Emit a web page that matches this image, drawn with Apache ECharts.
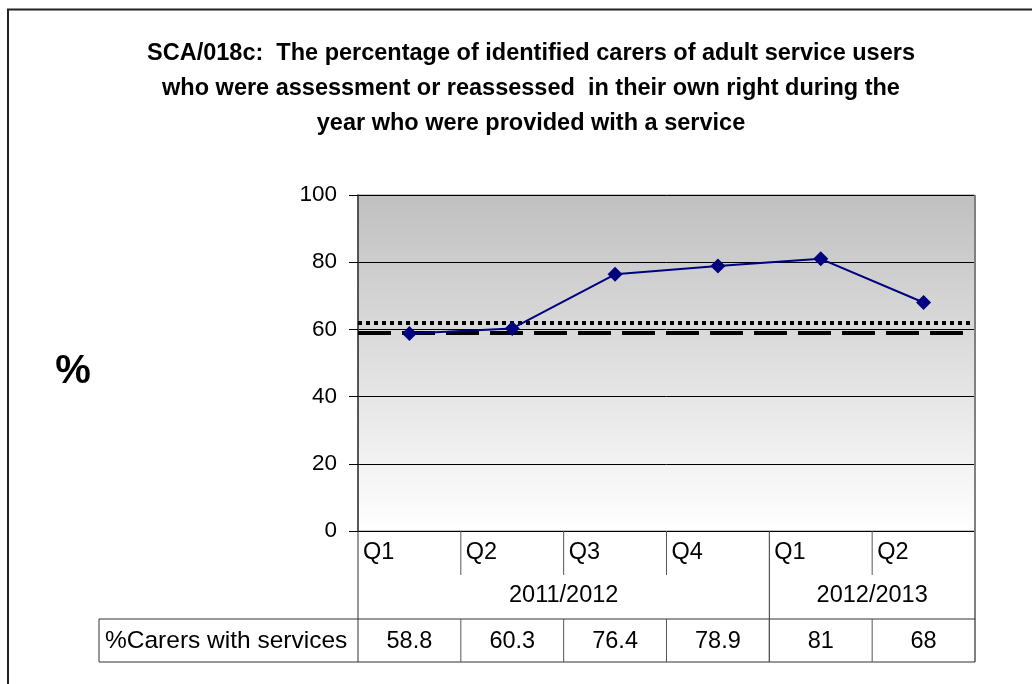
<!DOCTYPE html>
<html>
<head>
<meta charset="utf-8">
<script src="https://cdn.jsdelivr.net/npm/echarts@6/dist/echarts.min.js"></script>
<style>
html,body{margin:0;padding:0;background:#fff;}
#c{width:1032px;height:684px;}
</style>
</head>
<body>
<div id="c"></div>
<script>
// ---- data ----
const quarters = ['Q1', 'Q2', 'Q3', 'Q4', 'Q1', 'Q2'];
const years = ['2011/2012', '2012/2013'];
const yearSpans = [4, 2];
const seriesName = '%Carers with services';
const values = [58.8, 60.3, 76.4, 78.9, 81, 68];
const dottedLevel = 62;
const dashedLevel = 59;
const yMin = 0, yMax = 100, yStep = 20;
const titleText = 'SCA/018c:  The percentage of identified carers of adult service users\nwho were assessment or reassessed  in their own right during the\nyear who were provided with a service';
const yName = '%';

const FONT = '"Liberation Sans", Arial, sans-serif';
const chart = echarts.init(document.getElementById('c'), null, {renderer: 'canvas'});

const option = {
  animation: false,
  backgroundColor: '#fff',
  textStyle: {fontFamily: FONT},
  grid: {
    left: 358, right: 57, top: 195, bottom: 153,
    show: true,
    borderColor: '#8a8a8a', borderWidth: 1,
    backgroundColor: {
      type: 'linear', x: 0, y: 0, x2: 0, y2: 1,
      colorStops: [{offset: 0, color: '#c0c0c0'}, {offset: 1, color: '#ffffff'}]
    }
  },
  xAxis: {
    type: 'category',
    data: quarters.map((q, i) => q + '_' + i),
    boundaryGap: true,
    axisLine: {show: true, lineStyle: {color: '#000', width: 1}},
    axisTick: {show: false},
    axisLabel: {show: false},
    splitLine: {show: false}
  },
  yAxis: {
    type: 'value', min: yMin, max: yMax, interval: yStep,
    axisLine: {show: true, lineStyle: {color: '#333', width: 1.5}},
    axisTick: {show: true, length: 9, lineStyle: {color: '#000'}},
    axisLabel: {color: '#000', fontSize: 22.5, margin: 21, fontFamily: FONT},
    splitLine: {show: true, lineStyle: {color: '#000', width: 1}}
  },
  series: [{
    name: seriesName,
    type: 'line',
    data: values,
    z: 3,
    symbol: 'diamond',
    symbolSize: 15,
    itemStyle: {color: '#000080'},
    lineStyle: {color: '#000080', width: 2},
    markLine: {
      silent: true,
      z: 2,
      symbol: ['none', 'none'],
      label: {show: false},
      emphasis: {disabled: true},
      data: [
        {yAxis: dottedLevel, lineStyle: {type: [4, 4], width: 4, color: '#000'}},
        {yAxis: dashedLevel, lineStyle: {type: [33, 11], width: 4, color: '#000'}}
      ]
    }
  }]
};
chart.setOption(option);

function buildGraphics() {
  const n = quarters.length;
  const c0 = chart.convertToPixel({xAxisIndex: 0}, 0);
  const c1 = chart.convertToPixel({xAxisIndex: 0}, 1);
  const cw = c1 - c0;
  const left = c0 - cw / 2;
  const right = left + cw * n;
  const yBase = chart.convertToPixel({yAxisIndex: 0}, yMin);
  const yTop = chart.convertToPixel({yAxisIndex: 0}, yMax);
  const qBottom = yBase + 44;
  const yearBottom = yBase + 88;
  const dataBottom = yBase + 131;
  const boxLeft = 99;
  const lineColor = '#333';
  const tFont = '23.5px ' + FONT;
  const els = [];
  const line = (x1, y1, x2, y2, color, w) => els.push({
    type: 'line', silent: true, z: 10,
    shape: {x1, y1, x2, y2},
    style: {stroke: color || lineColor, lineWidth: w || 1}
  });
  const text = (x, y, t, align, extra) => els.push({
    type: 'text', silent: true, z: 10, x, y,
    style: Object.assign({text: t, fill: '#000', font: tFont, textAlign: align || 'left', textVerticalAlign: 'middle'}, extra || {})
  });
  // outer chart border
  els.push({type: 'rect', silent: true, z: 0, shape: {x: 8, y: 9.5, width: 2000, height: 2000},
    style: {fill: null, stroke: '#222', lineWidth: 2}});
  // title
  text(531, 36.5, titleText, 'center', {font: 'bold 23.5px ' + FONT, textVerticalAlign: 'top', lineHeight: 34.7});
  // y name
  text(73, 372, yName, 'center', {font: 'bold 40px ' + FONT});
  // outer verticals
  line(left, yBase, left, dataBottom);
  line(right, yTop, right, dataBottom, '#808080', 2);
  // year boundaries and quarter dividers
  let idx = 0;
  years.forEach((yr, k) => {
    const span = yearSpans[k];
    const xs = left + idx * cw;
    const xe = left + (idx + span) * cw;
    text((xs + xe) / 2, yBase + 65, yr, 'center');
    for (let j = 1; j < span; j++) {
      const xd = xs + j * cw;
      line(xd, yBase, xd, qBottom, '#555');
    }
    if (k < years.length - 1) line(xe, yBase, xe, dataBottom);
    idx += span;
  });
  // Q labels
  quarters.forEach((q, i) => text(left + i * cw + 5, yBase + 22, q, 'left'));
  // data row
  line(boxLeft, yearBottom, right, yearBottom);
  line(boxLeft, dataBottom, right, dataBottom);
  line(boxLeft, yearBottom, boxLeft, dataBottom);
  for (let i = 1; i < n; i++) {
    const xd = left + i * cw;
    line(xd, yearBottom, xd, dataBottom, '#555');
  }
  text(boxLeft + 6, (yearBottom + dataBottom) / 2 + 1, seriesName, 'left', {font: '24.5px ' + FONT});
  values.forEach((v, i) => {
    const cx = chart.convertToPixel({xAxisIndex: 0}, i);
    text(cx, (yearBottom + dataBottom) / 2 + 1, String(v), 'center');
  });
  chart.setOption({graphic: {elements: els}});
}
buildGraphics();
</script>
</body>
</html>
